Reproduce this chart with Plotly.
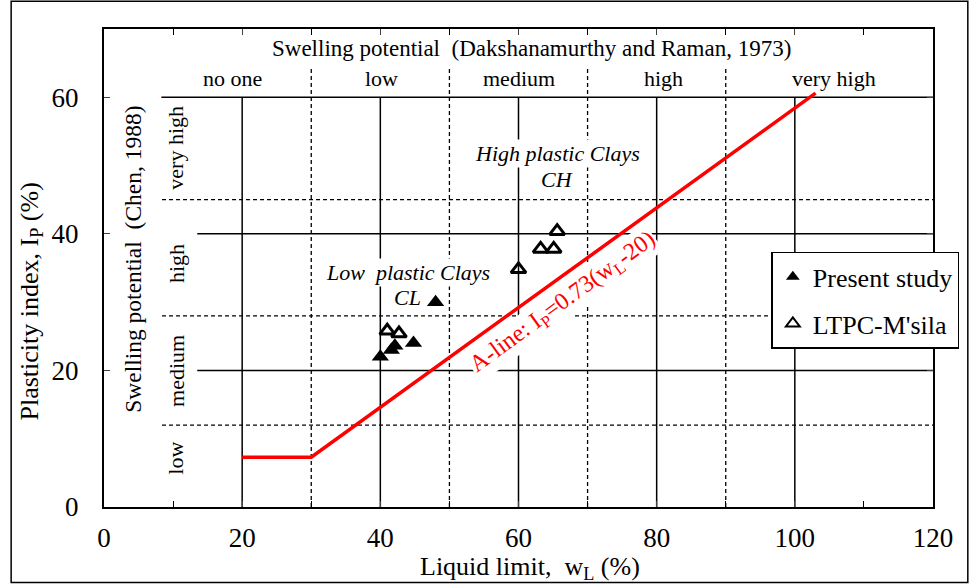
import plotly.graph_objects as go

# ---------------- data ----------------
present_wl = [40.0, 41.6, 42.1, 44.8, 48.0]
present_ip = [22.0, 23.0, 23.6, 24.0, 30.0]

ltpc_wl = [41.0, 42.7, 60.0, 63.2, 65.1, 65.6]
ltpc_ip = [25.8, 25.4, 34.8, 37.8, 37.8, 40.4]

aline_wl = [20, 30, 103]
aline_ip = [7.3, 7.3, 60.6]

x_ticks = [0, 20, 40, 60, 80, 100, 120]
y_ticks = [0, 20, 40, 60]

# Dakshanamurthy & Raman class bounds (vertical dashed) and labels
dr_bounds = [30, 50, 70, 90]
dr_labels = ["no one", "low", "medium", "high", "very high"]
dr_label_x = [18.6, 40.1, 60.1, 81.0, 105.7]

# Chen class bounds (horizontal dashed) and labels
chen_bounds = [12, 28, 45]
chen_labels = ["very high", "high", "medium", "low"]
chen_label_y = [52.6, 35.7, 19.9, 7.2]

major_x = [20, 40, 60, 80, 100]
major_y = [20, 40, 60]

FONT = "Liberation Serif"

fig = go.Figure()

fig.add_trace(go.Scatter(
    x=aline_wl, y=aline_ip, mode="lines",
    line=dict(color="#ff0000", width=3.5), showlegend=False, hoverinfo="skip"))

fig.add_trace(go.Scatter(
    x=present_wl, y=present_ip, mode="markers", name="Present study",
    legendgroup="a",
    marker=dict(symbol="triangle-up", size=15, color="black")))

fig.add_trace(go.Scatter(
    x=ltpc_wl, y=ltpc_ip, mode="markers", name="LTPC-M'sila",
    legendgroup="b",
    marker=dict(symbol="triangle-up-open", size=13, color="black",
                line=dict(width=3, color="black"))))

shapes = []
for v in major_x:
    shapes.append(dict(type="line", xref="x", yref="y", x0=v, x1=v, y0=0, y1=60,
                       line=dict(color="black", width=1.5), layer="below"))
for v in dr_bounds:
    shapes.append(dict(type="line", xref="x", yref="y", x0=v, x1=v, y0=0, y1=64.5,
                       line=dict(color="black", width=1.3, dash="4px,3px"), layer="below"))
for h in major_y:
    x0 = 8.3 if h == 60 else 13.5
    shapes.append(dict(type="line", xref="x", yref="y", x0=x0, x1=120, y0=h, y1=h,
                       line=dict(color="black", width=1.5), layer="below"))
for h in chen_bounds:
    shapes.append(dict(type="line", xref="x", yref="y", x0=8.4, x1=120, y0=h, y1=h,
                       line=dict(color="black", width=1.3, dash="4px,3px"), layer="below"))
shapes.append(dict(type="rect", xref="paper", yref="paper",
                   x0=-0.112, x1=1.042, y0=-0.158, y1=1.058,
                   line=dict(color="black", width=1.5)))

C = dict(xanchor="center", yanchor="middle", showarrow=False)
ann = []
ann.append(dict(x=61.9, y=67.1, xref="x", yref="y",
                text="Swelling potential  (Dakshanamurthy and Raman, 1973)",
                font=dict(size=23), **C))
for t, xv in zip(dr_labels, dr_label_x):
    ann.append(dict(x=xv, y=62.8, xref="x", yref="y", text=t,
                    font=dict(size=22), **C))
for t, yv in zip(chen_labels, chen_label_y):
    ann.append(dict(x=10.4, y=yv, xref="x", yref="y", text=t,
                    textangle=-90, font=dict(size=22), **C))
ann.append(dict(x=4.2, y=36.2, xref="x", yref="y",
                text="Swelling potential  (Chen, 1988)",
                textangle=-90, font=dict(size=23.5), **C))
ann.append(dict(x=65.6, y=51.8, xref="x", yref="y",
                text="<i>High plastic Clays</i>", bgcolor="white",
                font=dict(size=22), **C))
ann.append(dict(x=65.6, y=48.0, xref="x", yref="y",
                text="<i>CH</i>", bgcolor="white", font=dict(size=22), **C))
ann.append(dict(x=44.0, y=34.4, xref="x", yref="y",
                text="<i>Low  plastic Clays</i>", bgcolor="white",
                font=dict(size=22), **C))
ann.append(dict(x=44.0, y=30.7, xref="x", yref="y",
                text="<i>CL</i>", bgcolor="white", font=dict(size=22), **C))
ann.append(dict(x=66.4, y=29.9, xref="x", yref="y",
                text="A-line: I<sub>P</sub>=0.73(w<sub>L</sub>-20)",
                textangle=-36, bgcolor="white",
                font=dict(size=24, color="#ff0000"), **C))
ann.append(dict(x=-0.088, y=0.43, xref="paper", yref="paper",
                text="Plasticity index, I<sub>P</sub> (%)",
                textangle=-90, font=dict(size=26), **C))
ann.append(dict(x=0.514, y=-0.128, xref="paper", yref="paper",
                text="Liquid limit,  w<sub>L</sub> (%)",
                font=dict(size=26), **C))

fig.update_layout(
    width=970, height=584,
    margin=dict(l=104, r=37, t=29, b=77, autoexpand=False),
    paper_bgcolor="white", plot_bgcolor="white",
    font=dict(family=FONT, color="black", size=22),
    shapes=shapes, annotations=ann,
    legend=dict(x=0.805, y=0.534, xanchor="left", yanchor="top",
                bgcolor="white", bordercolor="black", borderwidth=1.5,
                font=dict(size=26), tracegroupgap=10,
                itemsizing="constant"),
)

fig.update_xaxes(range=[0, 120], tickvals=x_ticks, ticks="inside", ticklen=6,
                 showline=True, linecolor="black", linewidth=2, mirror="ticks",
                 showgrid=False, zeroline=False, tickfont=dict(size=27),
                 ticklabelstandoff=6,
                 minor=dict(ticks="inside", dtick=10, ticklen=6, tickcolor="black"))
fig.update_yaxes(range=[0, 70], tickvals=y_ticks, ticks="inside", ticklen=6,
                 showline=True, linecolor="black", linewidth=2, mirror="ticks",
                 showgrid=False, zeroline=False, tickfont=dict(size=27),
                 ticklabelstandoff=18)

fig.write_html("out.html", config={"displayModeBar": False},
               post_script="document.body.style.margin='0';")
